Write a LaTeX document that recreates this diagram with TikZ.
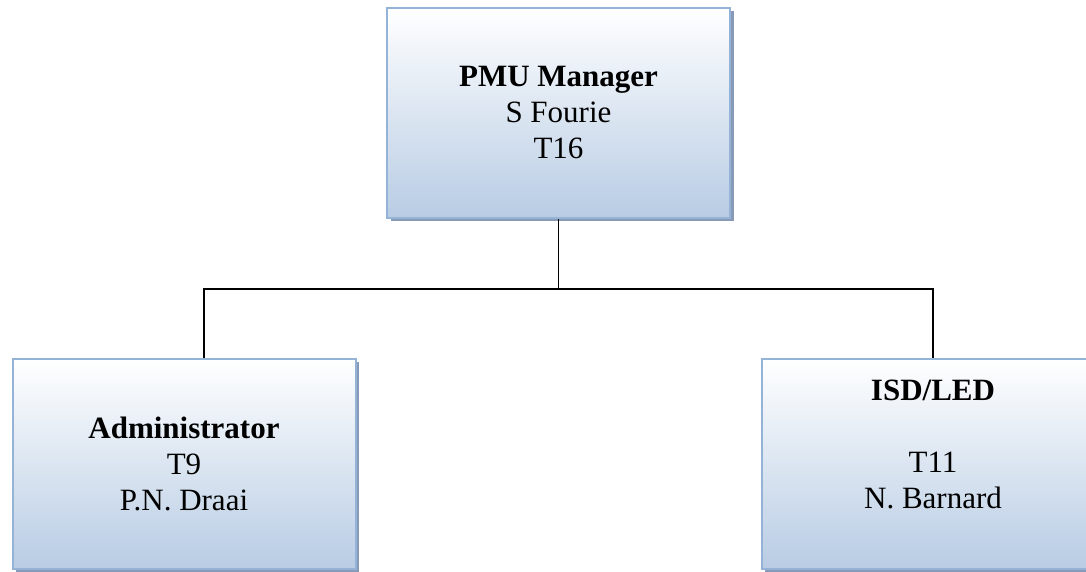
\documentclass[tikz,border=0pt]{standalone}
\usepackage{fontspec}
\setmainfont{Liberation Serif}
\usetikzlibrary{shadows,positioning,calc}
\definecolor{boxline}{RGB}{149,179,215}
\definecolor{boxbottom}{RGB}{184,204,228}
\definecolor{boxshadow}{RGB}{135,155,185}

\begin{document}
\begin{tikzpicture}[
            unit/.style={rectangle, draw=boxline, line width=2pt,
            top color=white, bottom color=boxbottom,
            minimum width=343pt, minimum height=210pt, inner sep=0pt,
            drop shadow={shadow xshift=3.5pt, shadow yshift=-3.5pt, fill=boxshadow, opacity=1},
            align=center, font=\fontsize{31}{36}\selectfont},
            unittext/.style={align=center, inner sep=0pt, font=\fontsize{31}{36}\selectfont},
            link/.style={draw=black, line width=1.5pt}]
            \useasboundingbox (0,0) rectangle (1086pt,571pt);
            % manager on top
            \node (pmu) [unit] at (558.5pt,458pt)
            {
                \textbf{PMU Manager}\\
                S Fourie\\
                T16
            };
            % the two units below
            \node (admin) [unit] at (184pt,107.5pt)
            {
                \textbf{Administrator}\\
                T9\\
                P.N. Draai
            };
            \node (isd) [unit] at (933pt,107.5pt) {};
            \node (isdtext) [unittext] at ($(isd.center)+(0,19.5pt)$)
            {
                \textbf{ISD/LED}\\
                \mbox{}\\
                T11\\
                N. Barnard
            };
            \coordinate (split) at (558.5pt,282pt);
            \draw[link] (pmu.south) -- (split);
            \draw[link] ([xshift=20pt]admin.north) |- (split) -| (isd.north);
        \end{tikzpicture}
\end{document}
